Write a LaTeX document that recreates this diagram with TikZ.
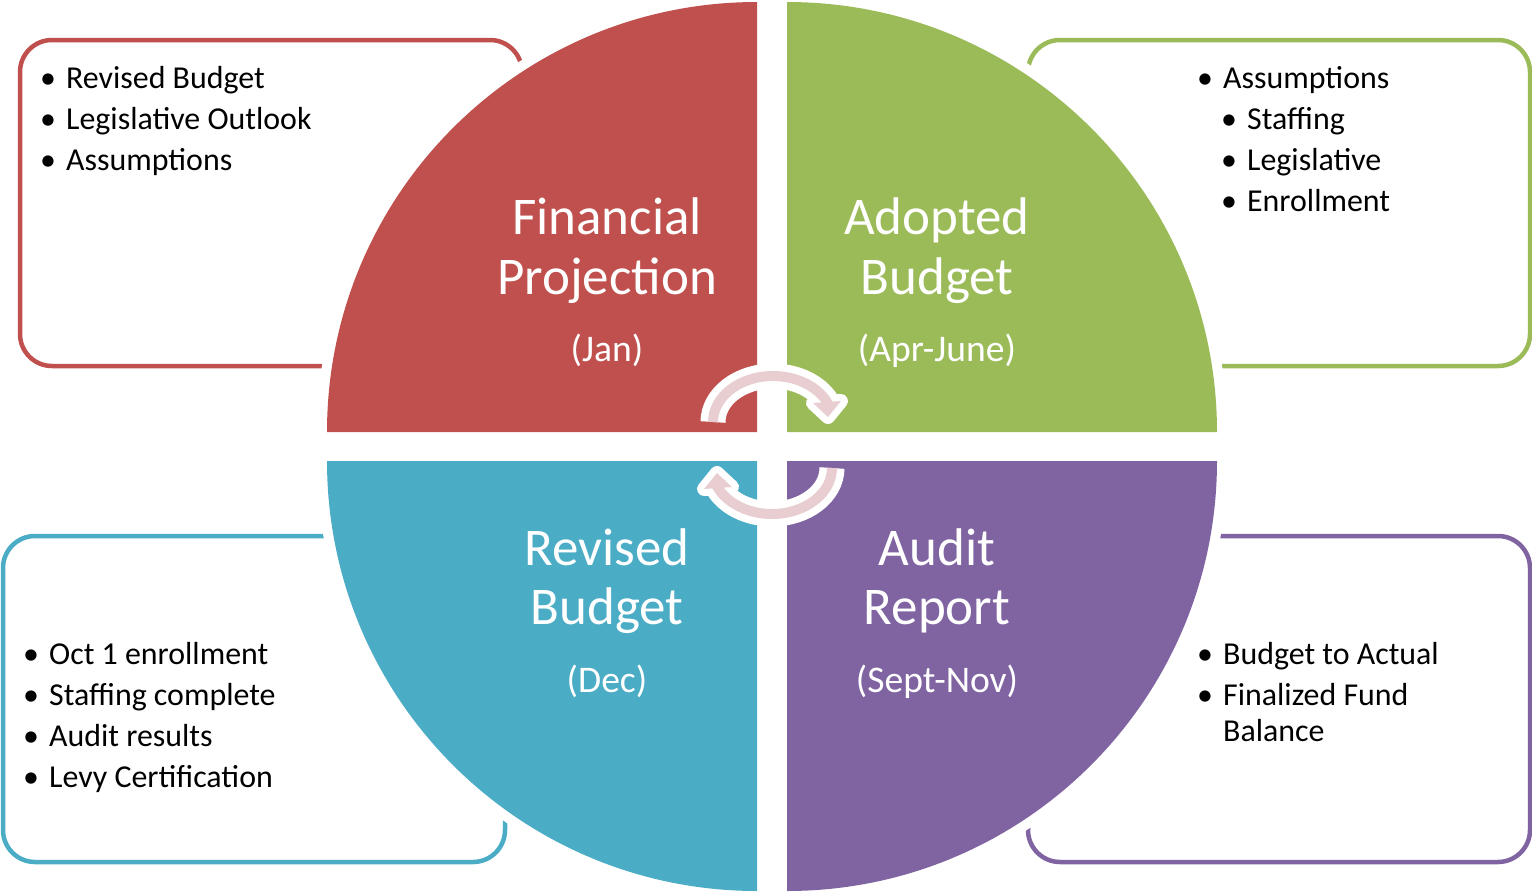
\documentclass[tikz,border=0pt]{standalone}
\usepackage{fontspec}
\setmainfont{Carlito}
\definecolor{qred}{HTML}{C0504D}
\definecolor{qgreen}{HTML}{9BBB59}
\definecolor{qblue}{HTML}{4BACC6}
\definecolor{qpurple}{HTML}{8064A2}
\definecolor{cyclepink}{RGB}{232,206,208}
% bullet followed by a fixed indent
\newcommand\dotitem{\makebox[25pt][l]{\hspace*{-1pt}•}}
\begin{document}
\begin{tikzpicture}[x=1pt,y=-1pt,
  panel/.style={line width=4.5pt, fill=white, rounded corners=32pt},
  title/.style={text=white, font=\fontsize{53}{64}\selectfont, anchor=base, inner sep=0pt},
  period/.style={text=white, font=\fontsize{37.6}{45}\selectfont, anchor=base, inner sep=0pt},
  item/.style={font=\fontsize{31.9}{38}\selectfont, anchor=base west, inner sep=0pt},
]
\useasboundingbox (0,0) rectangle (1532,895);

% note panels behind the wheel
\draw[panel, draw=qred]    (20,40)   rectangle (522,366);
\draw[panel, draw=qgreen]  (1028,40) rectangle (1530,366);
\draw[panel, draw=qblue]   (3,536)   rectangle (505,862);
\draw[panel, draw=qpurple] (1028,536) rectangle (1530,862);

% white margin around each quarter, then the quarter itself
\foreach \cx/\cy/\a/\b in {757/432/180/270, 787/432/270/360, 757/461/180/90, 787/461/0/90}
  \fill[white] (\cx,\cy) -- ++(\a:440) arc[start angle=\a, end angle=\b, radius=440] -- cycle;
\foreach \cx/\cy/\a/\b/\col in {757/432/180/270/qred, 787/432/270/360/qgreen,
                                757/461/180/90/qblue, 787/461/0/90/qpurple}
  \fill[\col] (\cx,\cy) -- ++(\a:430) arc[start angle=\a, end angle=\b, radius=430] -- cycle;

% circular arrows in the middle
\newcommand\cyclearrow{%
  \draw[white, line width=25pt] (713,422) arc[start angle=180, end angle=338, x radius=60, y radius=46];
  \filldraw[white, line width=14pt, line join=round] (813,403) -- (841,401) -- (828,417) -- cycle;
  \draw[cyclepink, line width=10pt] (713,422) arc[start angle=180, end angle=338, x radius=60, y radius=46];
  \fill[cyclepink] (813,403) -- (841,401) -- (828,417) -- cycle;
}
\cyclearrow
\begin{scope}[rotate around={180:(772.5,445)}]
  \cyclearrow
\end{scope}

% quarter titles
\node[title]  (fp1) at (607,234) {Financial};
\node[title]  (fp2) at (607,294) {Projection};
\node[period] (fp3) at (607,361) {(Jan)};
\node[title]  (ab1) at (937,234) {Adopted};
\node[title]  (ab2) at (937,294) {Budget};
\node[period] (ab3) at (937,361) {(Apr-June)};
\node[title]  (rb1) at (607,565) {Revised};
\node[title]  (rb2) at (607,624) {Budget};
\node[period] (rb3) at (607,692) {(Dec)};
\node[title]  (ar1) at (937,565) {Audit};
\node[title]  (ar2) at (937,624) {Report};
\node[period] (ar3) at (937,692) {(Sept-Nov)};

% panel notes
\node[item] (n1) at (41,88)  {\dotitem Revised Budget};
\node[item] (n2) at (41,129) {\dotitem Legislative Outlook};
\node[item] (n3) at (41,170) {\dotitem Assumptions};

\node[item] (g1) at (1198,88)  {\dotitem Assumptions};
\node[item] (g2) at (1222,129) {\dotitem Staffing};
\node[item] (g3) at (1222,170) {\dotitem Legislative};
\node[item] (g4) at (1222,211) {\dotitem Enrollment};

\node[item] (b1) at (24,664) {\dotitem Oct 1 enrollment};
\node[item] (b2) at (24,705) {\dotitem Staffing complete};
\node[item] (b3) at (24,746) {\dotitem Audit results};
\node[item] (b4) at (24,787) {\dotitem Levy Certification};

\node[item] (p1) at (1198,664) {\dotitem Budget to Actual};
\node[item] (p2) at (1198,705) {\dotitem Finalized Fund};
\node[item] (p3) at (1223,741) {Balance};
\end{tikzpicture}
\end{document}
